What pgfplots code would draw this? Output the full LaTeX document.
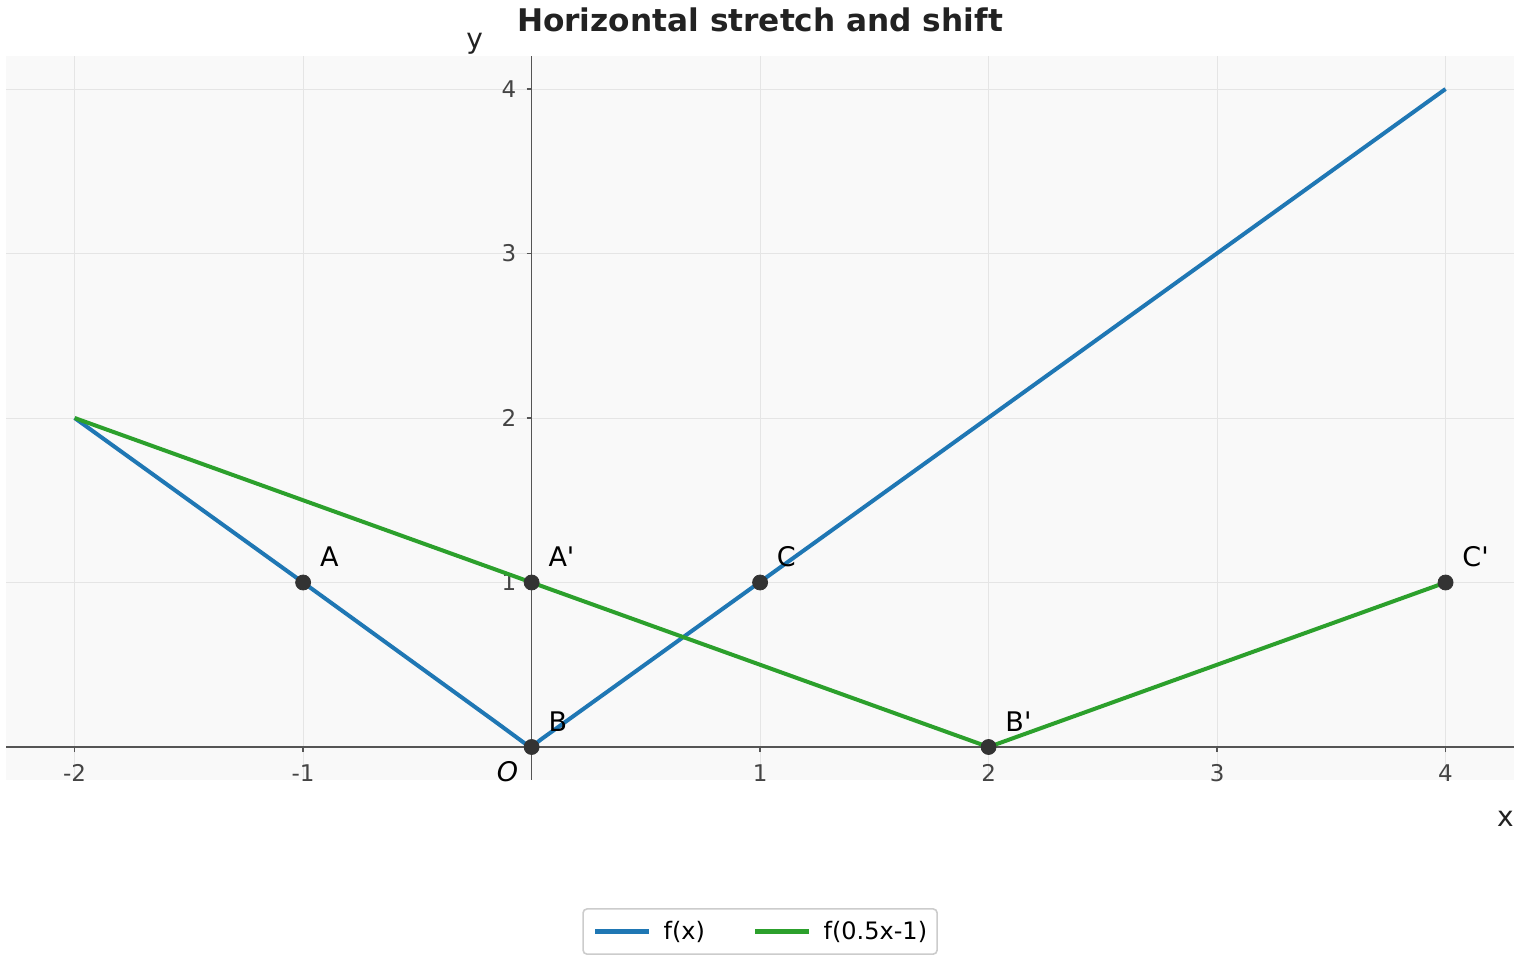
\documentclass[border=0pt]{standalone}
\usepackage{fontspec}
\newfontfamily\dejavu{DejaVu Sans}
\usepackage{pgfplots}
\pgfplotsset{compat=1.18}
\definecolor{fblue}{HTML}{1F77B4}
\definecolor{fgreen}{HTML}{2CA02C}
\definecolor{ptc}{HTML}{333333}
\definecolor{axc}{HTML}{555555}
\definecolor{gridc}{HTML}{E5E5E5}
\definecolor{bgc}{HTML}{F9F9F9}
\definecolor{tickc}{HTML}{444444}
\definecolor{legc}{HTML}{CCCCCC}
\definecolor{titc}{HTML}{222222}
\begin{document}
\dejavu
\begin{tikzpicture}
\path[use as bounding box] (0,0) rectangle (760pt,480pt);
\begin{axis}[
  at={(3.05pt,90.05pt)}, anchor=south west,
  scale only axis, width=754pt, height=361.9pt,
  xmin=-2.3, xmax=4.3, ymin=-0.2, ymax=4.2,
  axis lines=middle,
  axis line style={-, color=axc, line width=0.8pt},
  axis background/.style={fill=bgc},
  xtick={-2,-1,1,2,3,4}, xticklabels={-2,-1,1,2,3,4},
  ytick={1,2,3,4}, yticklabels={1,2,3,4},
  tick align=outside, major tick length=2.5pt,
  tick style={color=axc, line width=0.8pt},
  grid=major, major grid style={color=gridc, line width=0.5pt},
  ticklabel style={font=\dejavu\fontsize{11.5}{13}\selectfont, text=tickc},
  xticklabel style={anchor=north, inner sep=0pt, yshift=-6pt},
  yticklabel style={anchor=east, inner sep=0pt, xshift=-5pt},
  clip=false,
  legend columns=2,
  legend image code/.code={\draw[#1, line width=2.3pt] (0pt,3.7pt) -- (27pt,3.7pt);},
  legend style={at={(0.5,-0.2095)}, anchor=center, draw=legc, line width=0.8pt,
    rounded corners=2pt, fill=white, inner xsep=5pt, inner ysep=6pt,
    font=\dejavu\fontsize{12}{14}\selectfont,
    nodes={inner sep=0pt, anchor=base west},
    /tikz/every odd column/.style={column sep=6pt},
    /tikz/every even column/.style={column sep=24pt}},
]
\addplot[fblue, line width=2pt, line join=round] coordinates {(-2,2) (-1,1) (-0.16,0.155) (-0.02,0.012) (0,0) (0.04,0.045) (4,4)};
\addlegendentry{f(x)}
\addplot[fgreen, line width=2pt, line join=round] coordinates {(-2,2) (0,1) (1.87,0.065) (2,0) (4,1)};
\addlegendentry{f(0.5x-1)}
\addplot[only marks, mark=*, mark size=3.75pt, mark options={fill=ptc, draw=ptc},
  forget plot, nodes near coords, point meta=explicit symbolic,
  every node near coord/.append style={anchor=west, inner sep=0pt, xshift=8.25pt, yshift=12.8pt, text=black, font=\dejavu\fontsize{13.5}{15}\selectfont}]
  coordinates {(-1,1)[A] (0,0)[B] (1,1)[C] (0,1)[A'] (2,0)[B'] (4,1)[C']};
\end{axis}
\node[font=\dejavu\bfseries\fontsize{15.6}{18}\selectfont, text=titc, inner sep=0pt] at (380pt,470pt) {Horizontal stretch and shift};
\node[font=\dejavu\fontsize{14}{16}\selectfont, text=titc, inner sep=0pt] at (237.3pt,458pt) {y};
\node[font=\dejavu\fontsize{14}{16}\selectfont, text=titc, inner sep=0pt] at (752.75pt,70.75pt) {x};
\node[font=\dejavu\itshape\fontsize{13.5}{15}\selectfont, text=black, inner sep=0pt] at (253.75pt,94pt) {O};
\end{tikzpicture}
\end{document}
